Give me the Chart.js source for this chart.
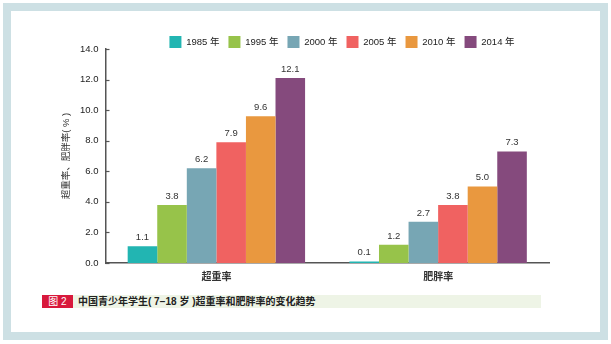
<!DOCTYPE html>
<html>
<head>
<meta charset="utf-8">
<script src="https://cdn.jsdelivr.net/npm/chart.js@4"></script>
<style>
  html, body { margin: 0; padding: 0; background: #fff; }
  body { width: 611px; height: 344px; position: relative; overflow: hidden;
         font-family: "Liberation Sans", "Noto Sans CJK SC", sans-serif; }
  #band { position: absolute; left: 3px; top: 3px; width: 605px; height: 337px; background: #cde0e4; }
  #inner { position: absolute; left: 11px; top: 11px; width: 589px; height: 321px; background: #fff; }
  #caption { position: absolute; left: 42px; top: 295px; width: 499px; height: 13px; background: #eef4e6; }
  #caption .tag { position: absolute; left: 0; top: 0; width: 31px; height: 13px; background: #d8193c;
                  color: #fff; font-size: 10px; line-height: 13px; text-align: center; }
  #caption .txt { position: absolute; left: 36px; top: 0; font-size: 10px; line-height: 13px; color: #222; font-weight: bold; }
  #wrap { position: absolute; left: 0; top: 0; width: 611px; height: 344px; }
</style>
</head>
<body>
<div id="band"></div>
<div id="inner"></div>
<div id="caption"><div class="tag">图 2</div><div class="txt">中国青少年学生( 7−18 岁 )超重率和肥胖率的变化趋势</div></div>
<div id="wrap"><canvas id="rateChart" width="611" height="344"></canvas></div>
<script>
// Data
const categories = ['超重率', '肥胖率'];
const years = ['1985 年', '1995 年', '2000 年', '2005 年', '2010 年', '2014 年'];
const rate1985 = [1.1, 0.1];
const rate1995 = [3.8, 1.2];
const rate2000 = [6.2, 2.7];
const rate2005 = [7.9, 3.8];
const rate2010 = [9.6, 5.0];
const rate2014 = [12.1, 7.3];
const yTicks = [0, 2, 4, 6, 8, 10, 12, 14];

const colors = ['#22b5b2', '#97c34a', '#77a6b4', '#f06261', '#e9983f', '#854a7d'];
const series = [rate1985, rate1995, rate2000, rate2005, rate2010, rate2014];
const fontFamily = '"Liberation Sans", "Noto Sans CJK SC", sans-serif';

// values above bars
const valueLabels = {
    id: 'valueLabels',
    afterDatasetsDraw(chart) {
        const ctx = chart.ctx;
        ctx.save();
        ctx.font = '9.5px ' + fontFamily;
        ctx.fillStyle = '#333';
        ctx.textAlign = 'center';
        ctx.textBaseline = 'bottom';
        chart.data.datasets.forEach((ds, i) => {
            chart.getDatasetMeta(i).data.forEach((bar, j) => {
                ctx.fillText(ds.data[j].toFixed(1), bar.x, bar.y - 4);
            });
        });
        ctx.restore();
    }
};

// short tick marks inside the y axis
const innerTicks = {
    id: 'innerTicks',
    afterDraw(chart) {
        const y = chart.scales.y;
        const ctx = chart.ctx;
        ctx.save();
        ctx.strokeStyle = '#555';
        ctx.lineWidth = 1.2;
        y.ticks.forEach((t, i) => {
            const py = Math.round(y.getPixelForTick(i)) + 0.5;
            ctx.beginPath();
            ctx.moveTo(chart.chartArea.left, py);
            ctx.lineTo(chart.chartArea.left + 4, py);
            ctx.stroke();
        });
        ctx.restore();
    }
};

// move the legend to where the original has it
const nudgeLegend = {
    id: 'nudgeLegend',
    afterLayout(chart) {
        const lg = chart.legend;
        lg.left += 40; lg.right += 40;
        lg.top += 9; lg.bottom += 9;
    }
};

const ctx = document.getElementById('rateChart').getContext('2d');
const rateChart = new Chart(ctx, {
    type: 'bar',
    data: {
        labels: categories,
        datasets: years.map((yr, i) => ({
            label: yr,
            data: series[i],
            backgroundColor: colors[i],
            borderWidth: 0,
            categoryPercentage: 0.8,
            barPercentage: 1.0
        }))
    },
    options: {
        responsive: false,
        animation: false,
        devicePixelRatio: 1,
        layout: { padding: { left: 55, right: 62, top: 18, bottom: 61 } },
        plugins: {
            legend: {
                position: 'top',
                labels: {
                    boxWidth: 12, boxHeight: 12, padding: 9,
                    color: '#222',
                    font: { family: fontFamily, size: 9.5 }
                }
            },
            tooltip: { enabled: false }
        },
        scales: {
            x: {
                grid: { display: false },
                border: { display: true, color: '#555', width: 1.5 },
                ticks: { color: '#333', padding: 0, font: { family: fontFamily, size: 10, weight: 'bold' } },
                afterFit(s) { s.height = 20; }
            },
            y: {
                min: 0, max: 14,
                afterBuildTicks(s) { s.ticks = yTicks.map(v => ({ value: v })); },
                grid: { display: false, drawTicks: false },
                border: { display: true, color: '#555', width: 1.5 },
                ticks: {
                    color: '#222', padding: 7,
                    font: { family: fontFamily, size: 9.5 },
                    callback: v => v.toFixed(1)
                },
                title: {
                    display: true,
                    text: '超重率、肥胖率( % )',
                    color: '#333',
                    padding: { top: 6, bottom: 0 },
                    font: { family: fontFamily, size: 9.5 }
                },
                afterFit(s) { s.width = 50.5; }
            }
        }
    },
    plugins: [valueLabels, innerTicks, nudgeLegend]
});
</script>
</body>
</html>
